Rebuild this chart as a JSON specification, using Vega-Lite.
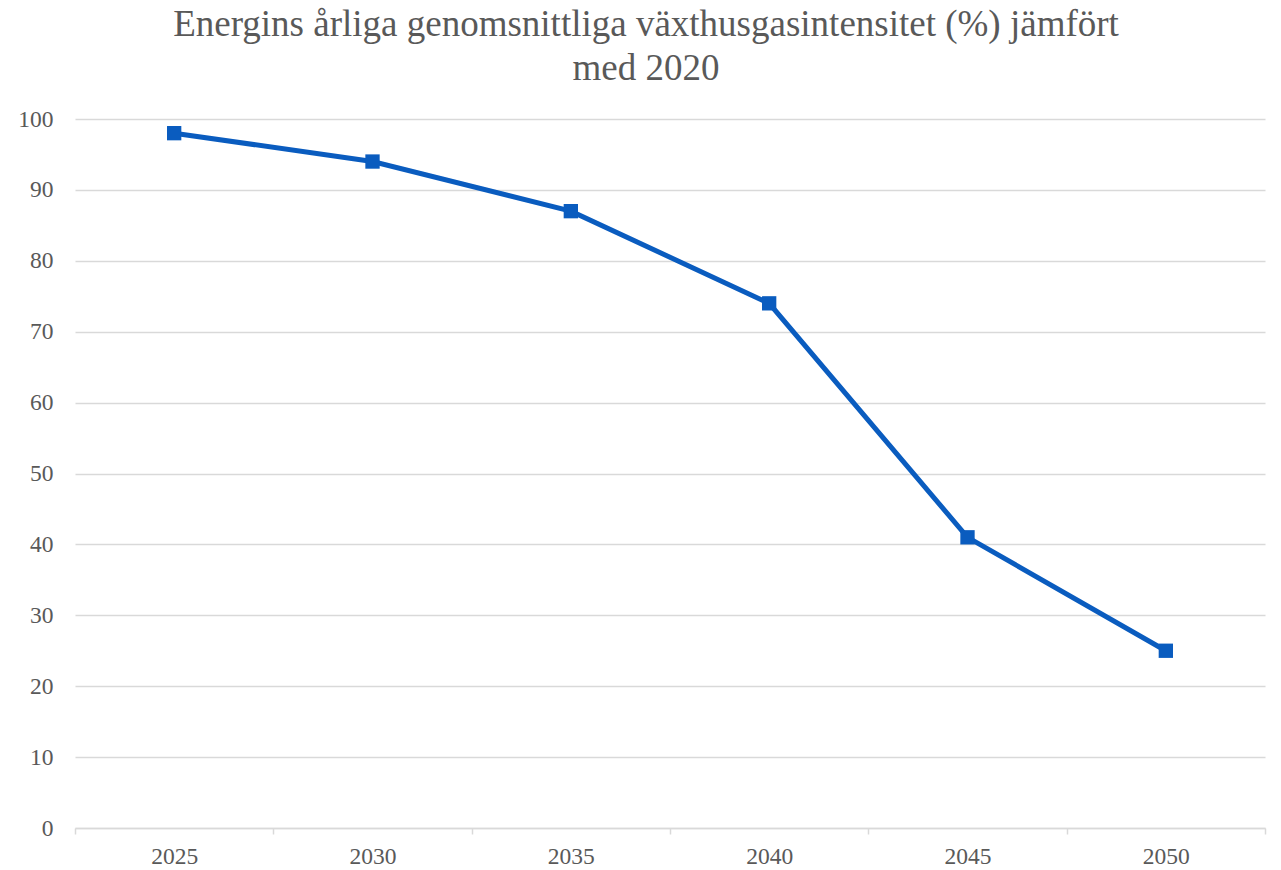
{
  "$schema": "https://vega.github.io/schema/vega-lite/v6.json",
  "width": 1190,
  "height": 709,
  "autosize": {"type": "none"},
  "padding": {"left": 75, "top": 119, "right": 16, "bottom": 42},
  "background": "white",
  "config": {"view": {"stroke": null}, "font": "Liberation Serif"},
  "title": {
    "text": ["Energins årliga genomsnittliga växthusgasintensitet (%) jämfört", "med 2020"],
    "font": "Liberation Serif",
    "fontSize": 37,
    "fontWeight": "normal",
    "color": "#595959",
    "anchor": "middle",
    "frame": "group",
    "dx": -24,
    "lineHeight": 44,
    "offset": 19
  },
  "data": {
    "values": [
      {"year": "2025", "value": 98},
      {"year": "2030", "value": 94},
      {"year": "2035", "value": 87},
      {"year": "2040", "value": 74},
      {"year": "2045", "value": 41},
      {"year": "2050", "value": 25}
    ]
  },
  "encoding": {
    "x": {
      "field": "year",
      "type": "ordinal",
      "scale": {"type": "band", "paddingInner": 0, "paddingOuter": 0},
      "axis": {
        "title": null,
        "labelAngle": 0,
        "labelFont": "Liberation Serif",
        "labelFontSize": 23.5,
        "labelColor": "#595959",
        "labelPadding": 10,
        "domainColor": "#d9d9d9",
        "domainWidth": 1.5,
        "tickColor": "#d9d9d9",
        "tickWidth": 1.5,
        "tickSize": 6,
        "tickBand": "extent",
        "grid": false
      }
    },
    "y": {
      "field": "value",
      "type": "quantitative",
      "scale": {"domain": [0, 100], "nice": false},
      "axis": {
        "title": null,
        "values": [0, 10, 20, 30, 40, 50, 60, 70, 80, 90, 100],
        "labelFont": "Liberation Serif",
        "labelFontSize": 23.5,
        "labelColor": "#595959",
        "labelPadding": 22,
        "domain": false,
        "ticks": false,
        "grid": true,
        "gridColor": "#d9d9d9",
        "gridWidth": 1.5
      }
    }
  },
  "layer": [
    {"mark": {"type": "line", "color": "#0a5cbf", "strokeWidth": 5}},
    {"mark": {"type": "point", "shape": "square", "filled": true, "size": 205, "color": "#0a5cbf", "opacity": 1}}
  ]
}
